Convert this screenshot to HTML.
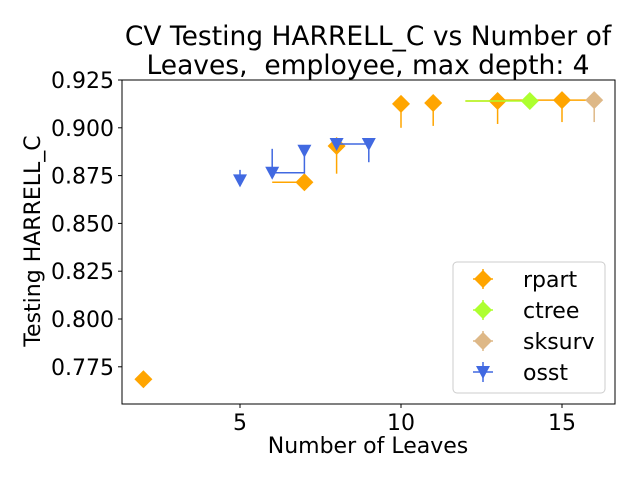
<!DOCTYPE html>
<html><head><meta charset="utf-8"><style>
body{margin:0;background:#fff}
svg{display:block;font-family:"DejaVu Sans","Liberation Sans",sans-serif}
</style></head><body>
<svg id="chart" width="640" height="480" viewBox="0 0 640 480">
<rect width="640" height="480" fill="#fff"/>
<text x="368" y="45" text-anchor="middle" font-size="26.5">CV Testing HARRELL_C vs Number of</text>
<text x="368" y="74" text-anchor="middle" font-size="26.5" xml:space="preserve" style="white-space:pre">Leaves,  employee, max depth: 4</text>
<g id="axes"></g>
<g id="marks"></g>
<g id="legend"></g>
</svg>
<script>
const xTicks=[5,10,15];
const yTicks=[0.775,0.800,0.825,0.850,0.875,0.900,0.925];
const rpartX=[2,7,8,10,11,13,15];
const rpartY=[0.7685,0.8715,0.8905,0.9125,0.913,0.914,0.9145];
const rpartYLo=[0.765,0.8715,0.876,0.900,0.901,0.902,0.903];
const rpartXLo=[2,6,8,10,11,12,13];
const rpartXHi=[2,7,8,10,11,13,16];
const ctreeX=[14];const ctreeY=[0.914];const ctreeYLo=[0.914];const ctreeXLo=[12];const ctreeXHi=[14];
const sksurvX=[16];const sksurvY=[0.9145];const sksurvYLo=[0.903];const sksurvXLo=[16];const sksurvXHi=[16];
const osstX=[5,6,7,8,9];
const osstY=[0.8725,0.8765,0.888,0.8915,0.8915];
const osstYLo=[0.870,0.8765,0.876,0.8915,0.882];
const osstYHi=[0.878,0.889,0.888,0.8915,0.8915];
const osstXHi=[5,7,7,9,9];

const L=122,R=615,T=80,B=404;
const sx=v=>240+(v-5)*32.2;
const sy=v=>80+(0.925-v)/0.025*47.8;
const NS="http://www.w3.org/2000/svg";
function mk(tag,attrs,parent){const e=document.createElementNS(NS,tag);for(const k in attrs)e.setAttribute(k,attrs[k]);parent.appendChild(e);return e;}
const axes=document.getElementById('axes'),marks=document.getElementById('marks'),leg=document.getElementById('legend');
const frame=mk('rect',{x:L,y:T,width:R-L,height:B-T,fill:'none',stroke:'#000','stroke-width':1},axes);


xTicks.forEach(t=>{
 const l=mk('line',{x1:sx(t),x2:sx(t),y1:B,y2:B+4,stroke:'#000'},axes);
 
 
 const tx=mk('text',{x:sx(t),y:B+26,'text-anchor':'middle','font-size':22},axes);tx.textContent=t;
 
 
});
yTicks.forEach(t=>{
 const l=mk('line',{x1:L-4,x2:L,y1:sy(t),y2:sy(t),stroke:'#000'},axes);
 
 
 const tx=mk('text',{x:L-8,y:sy(t)+8,'text-anchor':'end','font-size':22},axes);tx.textContent=t.toFixed(3);
 
 
});
const xl=mk('text',{x:368,y:453,'text-anchor':'middle','font-size':22},axes);xl.textContent='Number of Leaves';


const yl=mk('text',{x:0,y:0,'text-anchor':'middle','font-size':22,transform:'translate(40,241) rotate(-90)'},axes);yl.textContent='Testing HARRELL_C';



function diamond(cx,cy,c,p){const s=9;const e=mk('polygon',{points:`${cx},${cy-s} ${cx+s},${cy} ${cx},${cy+s} ${cx-s},${cy}`,fill:c},p);return e;}
function tri(cx,cy,c,p){const e=mk('polygon',{points:`${cx-7},${cy-6} ${cx+7},${cy-6} ${cx},${cy+7}`,fill:c},p);return e;}
function series(name,X,Y,YLo,YHi,XLo,XHi,c,shape){
 X.forEach((x,i)=>{
  const g=mk('g',{},marks);
  
  
  mk('line',{x1:sx(XLo[i]),x2:sx(XHi[i]),y1:sy(Y[i]),y2:sy(Y[i]),stroke:c,'stroke-width':1.5},g);
  mk('line',{x1:sx(x),x2:sx(x),y1:sy(YLo[i]),y2:sy(YHi[i]),stroke:c,'stroke-width':1.5},g);
  shape(sx(x),sy(Y[i]),c,g);
 });
}
series('rpart',rpartX,rpartY,rpartYLo,rpartY,rpartXLo,rpartXHi,'#ffa500',diamond);
series('ctree',ctreeX,ctreeY,ctreeYLo,ctreeY,ctreeXLo,ctreeXHi,'#adff2f',diamond);
series('sksurv',sksurvX,sksurvY,sksurvYLo,sksurvY,sksurvXLo,sksurvXHi,'#deb887',diamond);
series('osst',osstX,osstY,osstYLo,osstYHi,osstX,osstXHi,'#4169e1',tri);

mk('rect',{x:453,y:262,width:152,height:131,rx:4,fill:'#fff',stroke:'#ccc'},leg);
[['rpart','#ffa500',diamond],['ctree','#adff2f',diamond],['sksurv','#deb887',diamond],['osst','#4169e1',tri]].forEach((e,i)=>{
 const y=279+i*31;
 const g=mk('g',{},leg);
 
 
 mk('line',{x1:483,x2:483,y1:y-10,y2:y+10,stroke:e[1],'stroke-width':1.5},g);
 mk('line',{x1:473,x2:493,y1:y,y2:y,stroke:e[1],'stroke-width':1.5},g);
 e[2](483,y,e[1],g);
 const t=mk('text',{x:523,y:y+8,'font-size':22},g);t.textContent=e[0];
});
</script>
</body></html>
